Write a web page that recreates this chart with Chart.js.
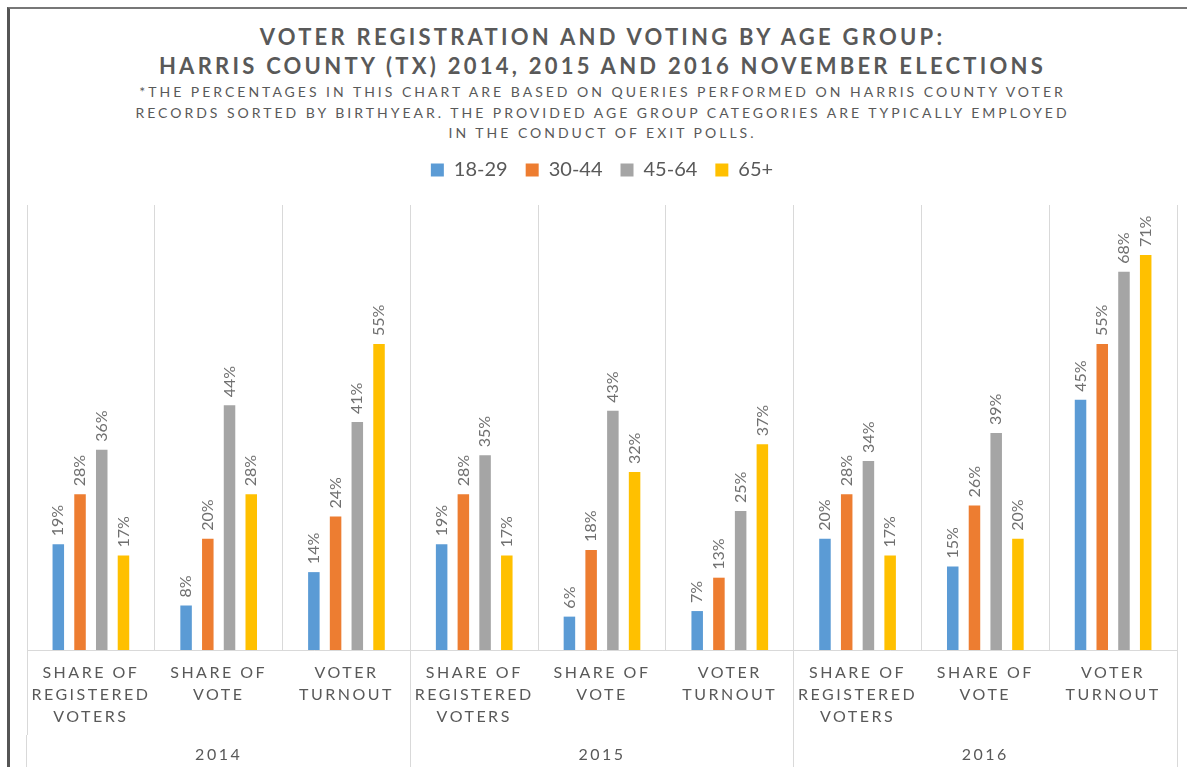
<!DOCTYPE html>
<html>
<head>
<meta charset="utf-8">
<title>Voter registration and voting by age group</title>
<script src="https://cdn.jsdelivr.net/npm/chart.js@4.4.1/dist/chart.umd.min.js"></script>
<style>
  html, body { margin: 0; padding: 0; background: #fff; overflow: hidden; }
  body { width: 1187px; height: 767px; position: relative; font-family: Lato, "Open Sans", sans-serif; color: #595959; }
  .frame { position: absolute; left: 7px; top: 7px; width: 1300px; height: 900px; border-left: 3px solid #555; border-top: 2px solid #777; }
  .head { position: absolute; left: 10px; width: 1185px; text-align: center; white-space: nowrap; }
  .title { top: 22px; font-weight: 700; font-size: 22px; line-height: 29px; letter-spacing: 3.25px; }
  .note { top: 82px; font-size: 14px; line-height: 20.5px; letter-spacing: 3px; }
  #chart { position: absolute; left: 0; top: 0; }
</style>
</head>
<body>
<div class="frame"></div>
<div class="head title">VOTER REGISTRATION AND VOTING BY AGE GROUP:<br>HARRIS COUNTY (TX) 2014, 2015 AND 2016 NOVEMBER ELECTIONS</div>
<div class="head note">*THE PERCENTAGES IN THIS CHART ARE BASED ON QUERIES PERFORMED ON HARRIS COUNTY VOTER<br>RECORDS SORTED BY BIRTHYEAR. THE PROVIDED AGE GROUP CATEGORIES ARE TYPICALLY EMPLOYED<br>IN THE CONDUCT OF EXIT POLLS.</div>
<canvas id="chart" width="1187" height="767"></canvas>

<script>
// Election years (outer axis) and the three measures shown for each year (inner axis)
const years = ['2014', '2015', '2016'];
const measures = [
  ['SHARE OF', 'REGISTERED', 'VOTERS'],
  ['SHARE OF', 'VOTE'],
  ['VOTER', 'TURNOUT']
];
const ageGroups = ['18-29', '30-44', '45-64', '65+'];

// Percent values, in order: 2014 (reg, vote, turnout), 2015 (...), 2016 (...)
const age18to29 = [19, 8, 14, 19, 6, 7, 20, 15, 45];
const age30to44 = [28, 20, 24, 28, 18, 13, 28, 26, 55];
const age45to64 = [36, 44, 41, 35, 43, 25, 34, 39, 68];
const age65plus = [17, 28, 55, 17, 32, 37, 17, 20, 71];

const seriesColors = ['#5B9BD5', '#ED7D31', '#A5A5A5', '#FFC000'];
const textColor = '#595959';
const lineColor = '#D9D9D9';

const categories = years.flatMap(() => measures);
const series = [age18to29, age30to44, age45to64, age65plus];

// Rotated "NN%" labels above each bar; axis labels after this get letter spacing
const valueLabels = {
  id: 'valueLabels',
  afterDatasetsDraw(chart) {
    const ctx = chart.ctx;
    ctx.save();
    ctx.letterSpacing = '0px';
    ctx.font = '16px Lato';
    ctx.fillStyle = '#707070';
    ctx.textAlign = 'left';
    ctx.textBaseline = 'middle';
    chart.data.datasets.forEach((ds, i) => {
      chart.getDatasetMeta(i).data.forEach((bar, j) => {
        ctx.save();
        ctx.translate(bar.x, bar.y - 8);
        ctx.rotate(-Math.PI / 2);
        ctx.fillText(ds.data[j] + '%', 0, 0);
        ctx.restore();
      });
    });
    ctx.restore();
    ctx.letterSpacing = '2.5px';
  },
  afterDraw(chart) {
    chart.ctx.letterSpacing = '0px';
  }
};

// a bit more room between the legend row and the plot area
const legendGap = {
  id: 'legendGap',
  afterInit(chart) {
    const legend = chart.legend;
    const fit = legend.fit;
    legend.fit = function () {
      fit.call(this);
      this.height += 15;
    };
  }
};

// only the year separators run down through the label rows
const separatorTick = c => (c.type !== 'tick' || c.index % 3 === 0) ? lineColor : 'rgba(0,0,0,0)';

new Chart(document.getElementById('chart'), {
  type: 'bar',
  data: {
    labels: categories,
    datasets: ageGroups.map((name, i) => ({
      label: name,
      data: series[i],
      backgroundColor: seriesColors[i],
      borderWidth: 0,
      categoryPercentage: 0.68,
      barPercentage: 0.53
    }))
  },
  options: {
    responsive: false,
    animation: false,
    layout: { padding: { top: 142, left: 27, right: 10, bottom: 0 } },
    plugins: {
      legend: {
        position: 'top',
        labels: {
          boxWidth: 13,
          boxHeight: 13,
          padding: 18,
          color: textColor,
          font: { family: 'Lato', size: 20 }
        }
      },
      tooltip: { enabled: false }
    },
    scales: {
      x: {
        offset: true,
        afterFit: scale => { scale.height = 85; },
        grid: {
          offset: true,
          color: lineColor,
          drawTicks: true,
          tickLength: 85,
          tickColor: separatorTick
        },
        border: { display: true, color: lineColor },
        ticks: {
          z: 1,
          padding: -73,
          autoSkip: false,
          maxRotation: 0,
          minRotation: 0,
          color: textColor,
          font: { family: 'Lato', size: 16, lineHeight: '22px' }
        }
      },
      x2: {
        type: 'category',
        labels: years,
        position: 'bottom',
        offset: true,
        afterFit: scale => { scale.height = 32; },
        grid: {
          offset: true,
          drawOnChartArea: false,
          tickLength: 40,
          color: lineColor
        },
        border: { display: false },
        ticks: {
          z: 1,
          padding: -30,
          color: textColor,
          font: { family: 'Lato', size: 16, lineHeight: '20px' }
        }
      },
      y: { display: false, min: 0, max: 80 }
    }
  },
  plugins: [valueLabels, legendGap]
});
</script>
</body>
</html>
